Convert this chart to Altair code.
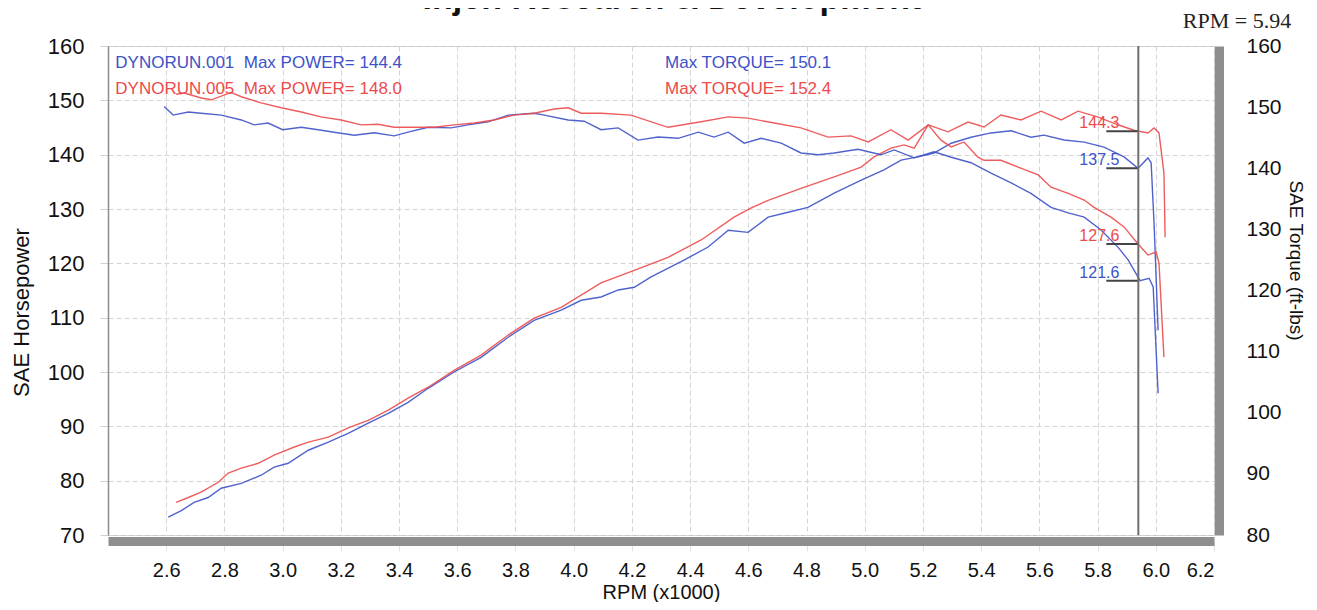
import altair as alt
import pandas as pd

# ---------------- data read from the dyno sheet ----------------
run_names = ["DYNORUN.001", "DYNORUN.005"]
run_colors = ["#3d52c8", "#ec4b4b"]

# horsepower (left axis)
b_hp_rpm = [2.607, 2.652, 2.696, 2.744, 2.789, 2.858, 2.926, 2.971, 3.019, 3.088, 3.157, 3.225, 3.294, 3.363,
            3.431, 3.500, 3.589, 3.682, 3.775, 3.864, 3.957, 4.026, 4.094, 4.153, 4.208, 4.266, 4.379, 4.462,
            4.531, 4.599, 4.668, 4.737, 4.805, 4.895, 4.988, 5.066, 5.125, 5.183, 5.238, 5.297, 5.365, 5.434,
            5.503, 5.571, 5.616, 5.685, 5.754, 5.822, 5.891, 5.939, 5.973, 5.984, 5.994, 6.008]
b_hp_val = [73.3, 74.5, 76.0, 76.9, 78.6, 79.5, 81.0, 82.5, 83.2, 85.6, 87.1, 88.7, 90.6, 92.4,
            94.4, 97.0, 100.0, 102.7, 106.4, 109.5, 111.4, 113.2, 113.8, 115.1, 115.6, 117.5, 120.6, 123.0,
            126.1, 125.7, 128.5, 129.4, 130.3, 132.9, 135.3, 137.2, 139.0, 139.6, 140.3, 142.1, 143.2, 144.0,
            144.4, 143.2, 143.6, 142.7, 142.3, 141.4, 139.6, 137.5, 139.4, 138.5, 127.4, 107.7]

r_hp_rpm = [2.634, 2.676, 2.720, 2.779, 2.813, 2.858, 2.916, 2.971, 3.040, 3.088, 3.157, 3.225, 3.294, 3.363,
            3.431, 3.500, 3.589, 3.682, 3.775, 3.864, 3.957, 4.094, 4.208, 4.324, 4.438, 4.551, 4.610, 4.668,
            4.781, 4.895, 4.988, 5.032, 5.090, 5.135, 5.170, 5.218, 5.286, 5.355, 5.410, 5.468, 5.537, 5.606,
            5.675, 5.733, 5.802, 5.870, 5.925, 5.973, 5.994, 6.011, 6.028, 6.032]
r_hp_val = [76.0, 76.9, 77.9, 79.7, 81.4, 82.3, 83.2, 84.7, 86.2, 87.1, 88.0, 89.7, 91.1, 93.0,
            95.2, 97.2, 100.3, 103.1, 106.8, 109.9, 111.9, 116.4, 118.7, 121.1, 124.3, 128.5, 130.2, 131.6,
            133.8, 135.9, 137.7, 139.6, 141.2, 141.8, 141.2, 145.5, 144.2, 146.0, 145.1, 147.3, 146.4, 148.0,
            146.4, 148.0, 146.9, 145.5, 144.5, 144.0, 144.9, 144.0, 136.6, 124.8]

# torque (right axis)
b_tq_rpm = [2.593, 2.624, 2.676, 2.720, 2.789, 2.858, 2.902, 2.950, 3.000, 3.064, 3.122, 3.177, 3.246, 3.315,
            3.383, 3.431, 3.500, 3.579, 3.637, 3.706, 3.775, 3.864, 3.899, 3.981, 4.036, 4.094, 4.153, 4.221,
            4.290, 4.359, 4.428, 4.482, 4.531, 4.586, 4.644, 4.713, 4.781, 4.840, 4.895, 4.977, 5.056, 5.101,
            5.170, 5.238, 5.297, 5.365, 5.434, 5.503, 5.571, 5.640, 5.699, 5.754, 5.812, 5.870, 5.905, 5.946,
            5.977, 5.991, 6.008]
b_tq_val = [150.1, 148.7, 149.2, 149.0, 148.7, 147.9, 147.1, 147.4, 146.3, 146.7, 146.3, 145.9, 145.4, 145.8,
            145.3, 145.9, 146.7, 146.6, 147.1, 147.6, 148.7, 149.0, 148.7, 147.9, 147.7, 146.3, 146.6, 144.6,
            145.1, 144.9, 145.9, 145.1, 145.9, 144.1, 144.9, 144.1, 142.5, 142.2, 142.5, 143.1, 142.2, 143.0,
            141.7, 142.7, 141.8, 140.9, 139.2, 137.6, 135.9, 133.6, 132.7, 132.0, 129.9, 127.1, 125.0, 121.6,
            122.0, 120.6, 103.2]

r_tq_rpm = [2.634, 2.662, 2.720, 2.755, 2.823, 2.858, 2.926, 2.995, 3.064, 3.132, 3.201, 3.270, 3.328, 3.383,
            3.452, 3.521, 3.589, 3.658, 3.727, 3.795, 3.864, 3.933, 3.981, 4.026, 4.094, 4.197, 4.324, 4.438,
            4.531, 4.599, 4.689, 4.781, 4.874, 4.953, 5.012, 5.090, 5.149, 5.218, 5.262, 5.297, 5.341, 5.389,
            5.410, 5.468, 5.527, 5.596, 5.640, 5.699, 5.754, 5.788, 5.846, 5.891, 5.939, 5.973, 6.001, 6.011,
            6.028]
r_tq_val = [152.1, 152.3, 151.5, 151.2, 152.4, 151.7, 150.7, 149.9, 149.2, 148.4, 147.9, 147.1, 147.2, 146.7,
            146.7, 146.7, 147.1, 147.4, 147.9, 148.7, 149.0, 149.7, 149.9, 149.0, 149.0, 148.7, 146.7, 147.6,
            148.4, 148.2, 147.4, 146.6, 145.1, 145.3, 144.3, 146.3, 144.6, 147.1, 144.6, 143.5, 144.3, 141.8,
            141.3, 141.3, 140.2, 138.9, 136.9, 135.9, 134.8, 133.6, 132.0, 130.4, 127.6, 125.8, 126.3, 124.5,
            109.1]

# cursor readout
cursor_rpm = [5.94]
hp_ann_label = ["144.3", "137.5"]
hp_ann_value = [144.3, 137.5]
hp_ann_run = ["DYNORUN.005", "DYNORUN.001"]
tq_ann_label = ["127.6", "121.6"]
tq_ann_value = [127.6, 121.6]
tq_ann_run = ["DYNORUN.005", "DYNORUN.001"]

# header legend text (placed in HP units)
leg_text = ["DYNORUN.001\u00a0 Max POWER= 144.4", "DYNORUN.005\u00a0 Max POWER= 148.0",
            "Max TORQUE= 150.1", "Max TORQUE= 152.4"]
leg_x = [2.425, 2.425, 4.314, 4.314]
leg_y = [156.9, 152.1, 156.9, 152.1]
leg_run = ["DYNORUN.001", "DYNORUN.005", "DYNORUN.001", "DYNORUN.005"]

x_ticks = [2.6, 2.8, 3.0, 3.2, 3.4, 3.6, 3.8, 4.0, 4.2, 4.4, 4.6, 4.8, 5.0, 5.2, 5.4, 5.6, 5.8, 6.0, 6.2]
hp_ticks = [70, 80, 90, 100, 110, 120, 130, 140, 150, 160]
tq_ticks = [80, 90, 100, 110, 120, 130, 140, 150, 160]

# ---------------- tables ----------------
hp_df = pd.concat([
    pd.DataFrame({"rpm": b_hp_rpm, "value": b_hp_val, "run": run_names[0]}),
    pd.DataFrame({"rpm": r_hp_rpm, "value": r_hp_val, "run": run_names[1]}),
])
tq_df = pd.concat([
    pd.DataFrame({"rpm": b_tq_rpm, "value": b_tq_val, "run": run_names[0]}),
    pd.DataFrame({"rpm": r_tq_rpm, "value": r_tq_val, "run": run_names[1]}),
])
hp_ann = pd.DataFrame({"label": hp_ann_label, "value": hp_ann_value, "run": hp_ann_run,
                       "x0": 5.83, "rpm": cursor_rpm[0], "tx": 5.875})
tq_ann = pd.DataFrame({"label": tq_ann_label, "value": tq_ann_value, "run": tq_ann_run,
                       "x0": 5.83, "rpm": cursor_rpm[0], "tx": 5.875})
leg_df = pd.DataFrame({"text": leg_text, "rpm": leg_x, "value": leg_y, "run": leg_run})

FONT = "Liberation Sans"
W, H = 1106, 489

color = alt.Color("run:N", scale=alt.Scale(domain=run_names, range=run_colors), legend=None)

X = alt.X("rpm:Q", scale=alt.Scale(domain=[2.4, 6.2], nice=False, zero=False),
          axis=alt.Axis(values=x_ticks, format=".1f", title="RPM (x1000)",
                        labelFontSize=20, titleFontSize=20, titleFontWeight="normal",
                        labelColor="#111", titleColor="#111", labelPadding=9, titlePadding=2,
                        offset=6, domainWidth=9, domainColor="#8e8e8e",
                        tickSize=10, tickColor="#e2e2e2",
                        grid=True, gridColor="#d4d4d4", gridDash=[5, 3]))

Y_HP = alt.Y("value:Q", scale=alt.Scale(domain=[70, 160], nice=False, zero=False),
             axis=alt.Axis(values=hp_ticks, title="SAE Horsepower", orient="left",
                           labelFontSize=22, titleFontSize=22, titleFontWeight="normal",
                           labelColor="#111", titleColor="#111", labelPadding=16, titlePadding=14,
                           tickSize=8, tickColor="#cfcfcf", domainColor="#8c8c8c", domainWidth=1.5,
                           grid=True, gridColor="#d4d4d4", gridDash=[5, 3], titleY=266))

Y_TQ = alt.Y("value:Q", scale=alt.Scale(domain=[80, 160], nice=False, zero=False),
             axis=alt.Axis(values=tq_ticks, title="SAE Torque (ft-lbs)", orient="right",
                           labelFontSize=21, titleFontSize=19, titleFontWeight="normal",
                           labelColor="#111", titleColor="#111", labelPadding=27, titlePadding=4,
                           offset=5, domainWidth=9, domainColor="#8e8e8e", tickSize=0,
                           grid=False, titleY=214))

hp_lines = alt.Chart(hp_df).mark_line(strokeWidth=1.4, opacity=0.9).encode(x=X, y=Y_HP, color=color)
hp_lead = alt.Chart(hp_ann).mark_rule(color="#444", strokeWidth=2).encode(x="x0:Q", x2="rpm:Q", y=Y_HP)
hp_txt = alt.Chart(hp_ann).mark_text(align="right", baseline="alphabetic", dy=-3, fontSize=16,
                                     font=FONT).encode(x="tx:Q", y=Y_HP, text="label:N", color=color)
leg = alt.Chart(leg_df).mark_text(align="left", baseline="middle", fontSize=17, font=FONT).encode(
    x="rpm:Q", y=Y_HP, text="text:N", color=color)

tq_lines = alt.Chart(tq_df).mark_line(strokeWidth=1.4, opacity=0.9).encode(x=X, y=Y_TQ, color=color)
tq_lead = alt.Chart(tq_ann).mark_rule(color="#444", strokeWidth=2).encode(x="x0:Q", x2="rpm:Q", y=Y_TQ)
tq_txt = alt.Chart(tq_ann).mark_text(align="right", baseline="alphabetic", dy=-3, fontSize=16,
                                     font=FONT).encode(x="tx:Q", y=Y_TQ, text="label:N", color=color)

cursor = alt.Chart(pd.DataFrame({"rpm": cursor_rpm})).mark_rule(color="#6e6e6e", strokeWidth=2).encode(x=X)

title = alt.Chart(pd.DataFrame({"t": ["Injen Research & Development"]})).mark_text(
    font=FONT, fontSize=34, fontWeight="bold", align="center", baseline="alphabetic", color="#111"
).encode(x=alt.value(564), y=alt.value(-37), text="t:N")

readout = alt.Chart(pd.DataFrame({"t": ["RPM = %.2f" % cursor_rpm[0]]})).mark_text(
    font="Liberation Serif", fontSize=22, align="center", baseline="middle", color="#222"
).encode(x=alt.value(1129), y=alt.value(-25), text="t:N")

hp_layer = alt.layer(hp_lines, hp_lead, hp_txt, leg)
tq_layer = alt.layer(tq_lines, tq_lead, tq_txt)

chart = alt.layer(hp_layer, tq_layer, cursor, title, readout).resolve_scale(y="independent").properties(
    width=W, height=H,
    autosize=alt.AutoSizeParams(type="none"),
    padding={"left": 100, "top": 38, "right": 95, "bottom": 67},
    background="white",
).configure_view(stroke="#c4c4c4", strokeWidth=1).configure_axis(labelFont=FONT, titleFont=FONT)

chart.save("out.html", embed_options={"renderer": "svg", "actions": False})
